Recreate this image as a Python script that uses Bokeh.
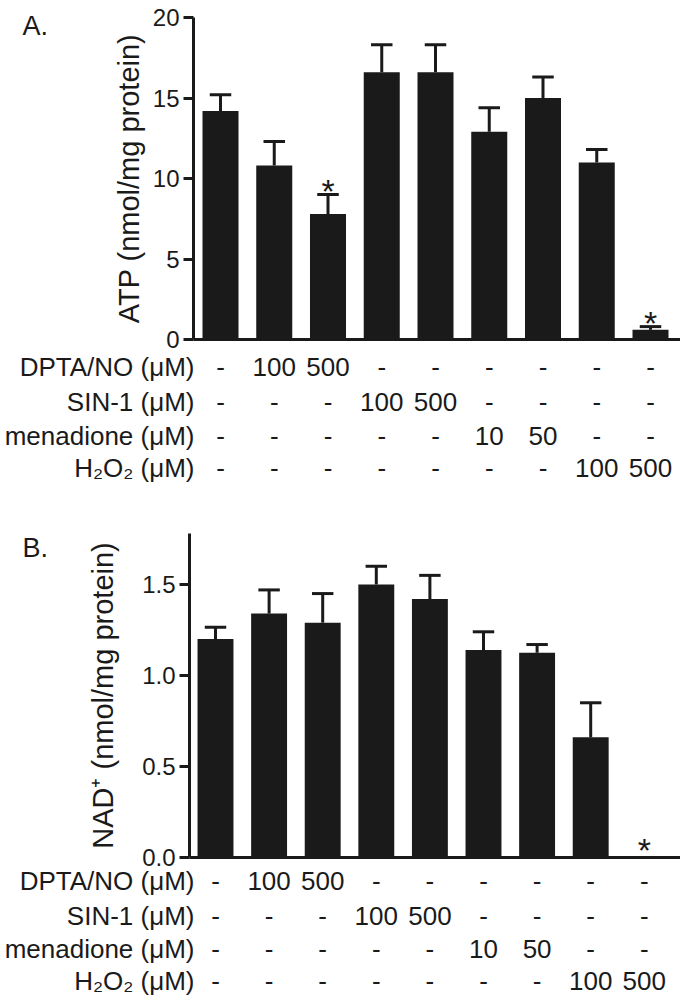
from bokeh.plotting import figure
from bokeh.models import ColumnDataSource, Range1d, FixedTicker, NumeralTickFormatter
from bokeh.layouts import column
from bokeh.embed import file_html
from bokeh.resources import INLINE
from bokeh.core.properties import value

# ---------------- data ----------------
groups = [1, 2, 3, 4, 5, 6, 7, 8, 9]
atp_mean = [14.2, 10.8, 7.8, 16.6, 16.6, 12.9, 15.0, 11.0, 0.6]
atp_sem = [1.0, 1.5, 1.2, 1.7, 1.7, 1.5, 1.3, 0.8, 0.2]
atp_sig = [False, False, True, False, False, False, False, False, True]
nad_mean = [1.20, 1.34, 1.29, 1.50, 1.42, 1.14, 1.125, 0.66, 0.0]
nad_sem = [0.065, 0.13, 0.16, 0.10, 0.13, 0.10, 0.045, 0.19, 0.0]
nad_sig = [False, False, False, False, False, False, False, False, True]
atp_ticks = [0, 5, 10, 15, 20]
nad_ticks = [0.0, 0.5, 1.0, 1.5]
row_names = ["DPTA/NO (μM)", "SIN-1 (μM)", "menadione (μM)", "H₂O₂ (μM)"]
dpta_row = ["-", "100", "500", "-", "-", "-", "-", "-", "-"]
sin1_row = ["-", "-", "-", "100", "500", "-", "-", "-", "-"]
menadione_row = ["-", "-", "-", "-", "-", "10", "50", "-", "-"]
h2o2_row = ["-", "-", "-", "-", "-", "-", "-", "100", "500"]
table_rows = [dpta_row, sin1_row, menadione_row, h2o2_row]

INK = "#1a1a1a"
FONT = "Liberation Sans"
W = 680


def panel(mean, sem, sig, ticks, ymax, ylabel, letter, fmt, cfg):
    page_top = cfg["page_top"]
    H = cfg["height"]
    axis_x = cfg["axis_x"]              # page px of y-axis line
    axis_top = cfg["axis_top"]          # page px of ymax
    axis_bottom = cfg["axis_bottom"]    # page px of y = 0
    pitch = cfg["pitch"]
    c1 = cfg["first_center"]
    ppu = (axis_bottom - axis_top) / ymax

    def px_x(px):
        return groups[0] + (px - c1) / pitch

    def px_y(py):
        return (axis_bottom - py) / ppu

    p = figure(width=W, height=H, output_backend="svg", toolbar_location=None,
               x_range=Range1d(px_x(0), px_x(W)),
               y_range=Range1d(px_y(page_top + H), px_y(page_top)),
               min_border_left=0, min_border_right=0,
               min_border_top=0, min_border_bottom=0)
    p.outline_line_color = None
    p.grid.visible = False
    p.background_fill_color = "white"
    p.border_fill_color = "white"

    upper = [m + s for m, s in zip(mean, sem)]
    src = ColumnDataSource(dict(x=groups, top=mean))
    p.vbar(x="x", width=0.67, top="top", bottom=0, source=src,
           fill_color=INK, line_color=None)
    keep = [i for i, s in enumerate(sem) if s > 0]
    err_src = ColumnDataSource(dict(
        x=[groups[i] for i in keep],
        top=[mean[i] for i in keep],
        upper=[upper[i] for i in keep],
        cl=[groups[i] - 0.2 for i in keep],
        cr=[groups[i] + 0.2 for i in keep]))
    p.segment(x0="x", y0="top", x1="x", y1="upper", source=err_src,
              line_color=INK, line_width=3)
    p.segment(x0="cl", y0="upper", x1="cr", y1="upper", source=err_src,
              line_color=INK, line_width=3)

    star_idx = [i for i, s in enumerate(sig) if s]
    star_src = ColumnDataSource(dict(
        x=[groups[i] for i in star_idx],
        y=[upper[i] for i in star_idx],
        t=["*" for i in star_idx]))
    p.text(x="x", y="y", text="t", source=star_src, text_align="center",
           text_baseline="alphabetic", text_font=value(FONT),
           text_font_size="34px", text_color=INK, y_offset=cfg["star_dy"])

    # x axis (baseline only), fixed at y = 0
    p.xaxis.fixed_location = 0
    p.xaxis.bounds = (px_x(axis_x), px_x(W))
    p.xaxis.ticker = FixedTicker(ticks=[])
    p.xaxis.major_label_text_font_size = "0px"
    p.xaxis.major_tick_line_color = None
    p.xaxis.minor_tick_line_color = None
    p.xaxis.axis_line_width = 3
    p.xaxis.axis_line_color = INK

    # y axis, fixed at the left of the bars
    p.yaxis.fixed_location = px_x(axis_x)
    p.yaxis.bounds = (0, ymax)
    p.yaxis.ticker = FixedTicker(ticks=ticks)
    if fmt:
        p.yaxis.formatter = NumeralTickFormatter(format=fmt)
    p.yaxis.axis_line_width = 3
    p.yaxis.axis_line_color = INK
    p.yaxis.major_tick_line_width = 3
    p.yaxis.major_tick_line_color = INK
    p.yaxis.major_tick_out = 10
    p.yaxis.major_tick_in = 0
    p.yaxis.minor_tick_line_color = None
    p.yaxis.major_label_standoff = 4
    p.yaxis.major_label_text_font = FONT
    p.yaxis.major_label_text_font_size = "24px"
    p.yaxis.major_label_text_color = INK
    p.yaxis.axis_label = ylabel
    p.yaxis.axis_label_text_font = FONT
    p.yaxis.axis_label_text_font_size = "29px"
    p.yaxis.axis_label_text_font_style = "normal"
    p.yaxis.axis_label_text_color = INK
    p.yaxis.axis_label_standoff = cfg["label_standoff"]

    # panel letter
    p.text(x=[px_x(22)], y=[px_y(cfg["letter_base"])], text=[letter],
           text_font=value(FONT), text_font_size="27px", text_color=INK,
           text_align="left", text_baseline="alphabetic")

    # treatment table
    for off, name, row in zip(cfg["row_offsets"], row_names, table_rows):
        yy = px_y(axis_bottom + off)
        p.text(x=[px_x(cfg["name_right"])], y=[yy], text=[name],
               text_font=value(FONT), text_font_size="26px", text_color=INK,
               text_align="right", text_baseline="middle")
        rs = ColumnDataSource(dict(x=groups, y=[yy] * len(groups), t=row))
        p.text(x="x", y="y", text="t", source=rs,
               text_font=value(FONT), text_font_size="26px",
               text_color=INK, text_align="center", text_baseline="middle")
    return p


cfgA = dict(page_top=0, height=500, axis_x=193, axis_top=17, axis_bottom=339,
            pitch=53.75, first_center=220, label_standoff=5, letter_base=25,
            row_offsets=[27, 62, 96, 128], name_right=194, star_dy=-4)
cfgB = dict(page_top=500, height=496, axis_x=189, axis_top=533, axis_bottom=857,
            pitch=53.6, first_center=215, label_standoff=20, letter_base=547,
            row_offsets=[23, 58, 91, 123], name_right=194, star_dy=-8)

pA = panel(atp_mean, atp_sem, atp_sig, atp_ticks, 20, "ATP (nmol/mg protein)", "A.", None, cfgA)
pB = panel(nad_mean, nad_sem, nad_sig, nad_ticks, 1.78, "NAD⁺ (nmol/mg protein)", "B.", "0.0", cfgB)

layout = column(pA, pB, spacing=0)
open("out.html", "w").write(file_html(layout, INLINE))
